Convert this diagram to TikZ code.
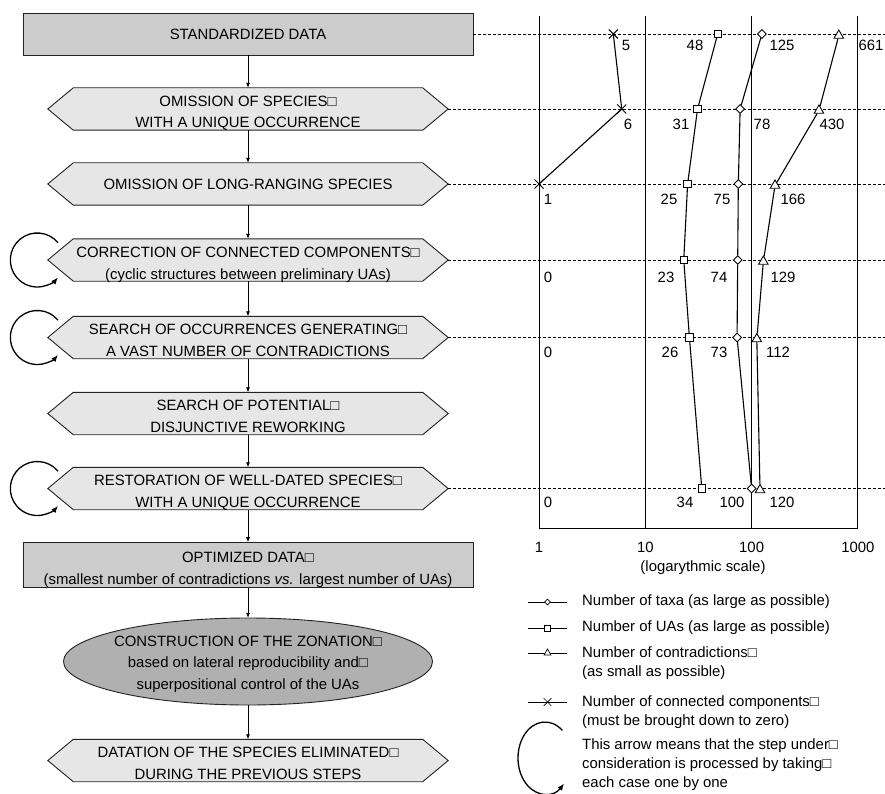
\documentclass[tikz,border=0pt]{standalone}
\usepackage{fontspec}
\setmainfont{Liberation Sans}
\usetikzlibrary{arrows.meta,shapes.geometric,shapes.misc,backgrounds}
\definecolor{frame}{HTML}{222222}
\definecolor{datagray}{HTML}{CCCCCC}
\definecolor{stepgray}{HTML}{E6E6E6}
\definecolor{zonegray}{HTML}{B0B0B0}
\tikzset{
  flow/.style={-{Latex[length=5pt,width=4pt]},line width=.8pt},
  databox/.style={draw=frame,fill=datagray,line width=.9pt,minimum width=450,minimum height=42,align=center},
  stepbox/.style={minimum width=400,minimum height=42,align=center,inner sep=0pt},
  twoline/.style={text height=38pt,text depth=0pt},
  zonebox/.style={minimum width=369,minimum height=87,align=center,inner sep=0pt,text height=56pt,text depth=0pt},
  chevron/.style={draw=frame,fill=stepgray,line width=.9pt},
  repeatloop/.style={line width=1.3pt,-{Latex[length=7pt,width=5.5pt]}},
  guide/.style={dash pattern=on 3pt off 2pt,line width=.8pt},
  series/.style={line width=1.1pt},
  taxon/.style={diamond,draw,fill=white,inner sep=0pt,minimum size=9pt,line width=.9pt},
  ua/.style={rectangle,draw,fill=white,inner sep=0pt,minimum size=7.5pt,line width=.9pt},
  contra/.style={regular polygon,regular polygon sides=3,draw,fill=white,inner sep=0pt,minimum size=11pt,line width=.9pt},
  comp/.style={cross out,draw,inner sep=0pt,minimum size=8pt,line width=1pt},
  legend/.style={font=\fontsize{14.9}{19}\selectfont,align=left,inner sep=0pt,anchor=west},
}

\begin{document}
\begin{tikzpicture}[x=1pt,y=-1pt,font=\fontsize{14.9}{21.7}\selectfont]
  \useasboundingbox (0,0) rectangle (885,794);
  \coordinate (edge) at (890,0);

  % the steps
  \node[databox] (b0) at (248,34) {STANDARDIZED DATA};
  \node[stepbox,twoline] (s1) at (248,109) {OMISSION OF SPECIES□\\WITH A UNIQUE OCCURRENCE};
  \node[stepbox] (s2) at (248,184) {OMISSION OF LONG-RANGING SPECIES};
  \node[stepbox,twoline] (s3) at (248,260) {CORRECTION OF CONNECTED COMPONENTS□\\(cyclic structures between preliminary UAs)};
  \node[stepbox,twoline] (s4) at (248,337.5) {SEARCH OF OCCURRENCES GENERATING□\\A VAST NUMBER OF CONTRADICTIONS};
  \node[stepbox,twoline] (s5) at (248,413.5) {SEARCH OF POTENTIAL□\\DISJUNCTIVE REWORKING};
  \node[stepbox,twoline] (s6) at (248,488.5) {RESTORATION OF WELL-DATED SPECIES□\\WITH A UNIQUE OCCURRENCE};
  \node[databox,twoline] (b7) at (248,565) {OPTIMIZED DATA□\\(smallest number of contradictions \textit{vs.} largest number of UAs)};
  \node[zonebox] (z8) at (248,661.5) {CONSTRUCTION OF THE ZONATION□\\based on lateral reproducibility and□\\superpositional control of the UAs};
  \node[stepbox,twoline] (s9) at (248,760.5) {DATATION OF THE SPECIES ELIMINATED□\\DURING THE PREVIOUS STEPS};

  \begin{scope}[on background layer]
    \foreach \n in {s1,s2,s3,s4,s5,s6,s9}
      \draw[chevron] (\n.west) -- ([xshift=25.5pt]\n.north west) -- ([xshift=-25.5pt]\n.north east)
        -- (\n.east) -- ([xshift=-25.5pt]\n.south east) -- ([xshift=25.5pt]\n.south west) -- cycle;
    \draw[draw=frame,fill=zonegray,line width=.9pt] (z8) ellipse [x radius=184.5,y radius=43.5];
  \end{scope}

  \foreach \a/\b in {b0/s1,s1/s2,s2/s3,s3/s4,s4/s5,s5/s6,s6/b7,b7/z8,z8/s9}
    \draw[flow] (\a) -- (\b);
  \foreach \n in {s3,s4,s6}
    \draw[repeatloop] (\n.west) ++(-10.5,0) ++(-40:27) arc[start angle=-40,end angle=-320,radius=27];

  % log scale
  \foreach \k/\s in {0/1,1/10,2/100,3/1000}{
    \draw[line width=.9pt] ({539+106.3*\k},16) -- ({539+106.3*\k},528);
    \node (d\k) at ({539+106.3*\k},547) {\s};
  }
  \draw[line width=.9pt] (539,528) -- (858,528);
  \node (scale) at (703,568) {(logarythmic scale)};

  \foreach \n in {b0,s1,s2,s3,s4,s6}
    \draw[guide] (\n.east) -- (\n.east -| edge);

  \foreach \r/\y/\t/\u/\k in {0/34/125/48/661,1/109/78/31/430,2/184/75/25/166,
      3/260/74/23/129,4/337.5/73/26/112,6/488.5/100/34/120}{
    \node[taxon] (t\r) at ({539+106.3*log10(\t)},\y) {};
    \node[ua] (u\r) at ({539+106.3*log10(\u)},\y) {};
    \node[contra,yshift=-1.5pt] (k\r) at ({539+106.3*log10(\k)},\y) {};
  }
  \node[comp] (x0) at ({539+106.3*log10(5)},34) {};
  \node[comp] (x1) at ({539+106.3*log10(6)},109) {};
  \node[comp] (x2) at (539,184) {};
  \draw[series] (t0) -- (t1) -- (t2) -- (t3) -- (t4) -- (t6);
  \draw[series] (u0) -- (u1) -- (u2) -- (u3) -- (u4) -- (u6);
  \draw[series] (k0) -- (k1) -- (k2) -- (k3) -- (k4) -- (k6);
  \draw[series] (x0.center) -- (x1.center) -- (x2.center);

  \foreach \x/\y/\s [count=\i] in {626/45/5,695/45/48,782/45/125,871/45/661,
      628/124/6,681/124/31,762/124/78,832/124/430,
      548/199/1,669/199/25,722/199/75,793/199/166,
      548/277/0,666/277/23,719/277/74,783/277/129,
      548/352/0,670/352/26,719/352/73,778/352/112,
      548/502/0,685/502/34,732/502/100,782/502/120}
    \node (v\i) at (\x,\y) {\s};

  % legend
  \foreach \y/\m/\w [count=\i] in {602/taxon/6,628/ua/6,653/contra/8,702/comp/7}{
    \draw[line width=.8pt] (528,\y) -- (567,\y);
    \node[\m,minimum size=\w pt,line width=.7pt] (m\i) at (547.5,\y) {};
  }
  \node[legend] (l1) at (582,602) {Number of taxa (as large as possible)};
  \node[legend] (l2) at (582,628) {Number of UAs (as large as possible)};
  \node[legend] (l3) at (582,663) {Number of contradictions□\\(as small as possible)};
  \node[legend] (l4) at (582,712) {Number of connected components□\\(must be brought down to zero)};
  \node[legend] (l5) at (582,765) {This arrow means that the step under□\\consideration is processed by taking□\\each case one by one};
  \coordinate (legloop) at (545,758);
  \draw[repeatloop] (legloop) ++(-50:27 and 36) arc[start angle=-50,end angle=-315,x radius=27,y radius=36];
\end{tikzpicture}
\end{document}
